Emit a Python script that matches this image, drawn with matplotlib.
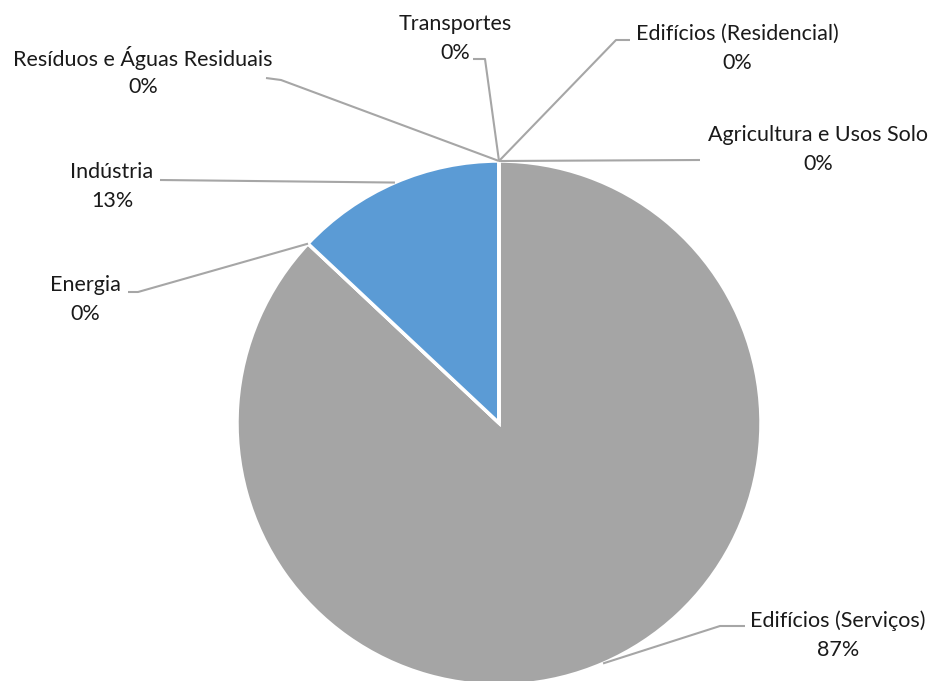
import numpy as np
import matplotlib.pyplot as plt

# sectors in drawing order (clockwise from 12 o'clock)
sectors = ["Agricultura e Usos Solo", "Edifícios (Serviços)", "Energia", "Indústria",
           "Resíduos e Águas Residuais", "Transportes", "Edifícios (Residencial)"]
shares = [0, 87, 0, 13, 0, 0, 0]
pct_labels = ["0%", "87%", "0%", "13%", "0%", "0%", "0%"]
colors = ["#4472C4", "#A5A5A5", "#ED7D31", "#5B9BD5", "#FFC000", "#70AD47", "#264478"]

W, H = 933, 681
plt.rcParams["font.family"] = ["Lato", "DejaVu Sans"]

fig = plt.figure(figsize=(W / 100, H / 100), dpi=100)
ax = fig.add_axes([0, 0, 1, 1])

cx, cy, r = 499, H - 423, 262
wedges, _ = ax.pie(shares, colors=colors, startangle=90, counterclock=False,
                   center=(cx, cy), radius=r, frame=True,
                   wedgeprops=dict(edgecolor="white", linewidth=2.5))
ax.set_xlim(0, W)
ax.set_ylim(0, H)
ax.set_aspect("equal")
ax.axis("off")

# label text position (image px) and leader path bends (image px)
label_pos = {
    "Agricultura e Usos Solo": (818, 135),
    "Edifícios (Serviços)": (838, 621),
    "Energia": (85, 285),
    "Indústria": (112, 172),
    "Resíduos e Águas Residuais": (143, 58),
    "Transportes": (455, 24),
    "Edifícios (Residencial)": (737, 34),
}
leader_pts = {
    "Agricultura e Usos Solo": [(700, 160)],
    "Edifícios (Serviços)": [(720, 626), (745, 626)],
    "Energia": [(138, 292), (128, 292)],
    "Indústria": [(160, 180)],
    "Resíduos e Águas Residuais": [(281, 80), (266, 78)],
    "Transportes": [(485, 59), (473, 59)],
    "Edifícios (Residencial)": [(616, 40), (630, 40)],
}

for w, name, pct in zip(wedges, sectors, pct_labels):
    mid = np.deg2rad((w.theta1 + w.theta2) / 2)
    ax_x = cx + r * np.cos(mid)
    ax_y = cy + r * np.sin(mid)
    xs = [ax_x] + [p[0] for p in leader_pts[name]]
    ys = [ax_y] + [H - p[1] for p in leader_pts[name]]
    ax.plot(xs, ys, color="#A6A6A6", linewidth=1.5, solid_capstyle="butt", zorder=3)
    tx, ty = label_pos[name]
    ax.text(tx, H - ty, name, ha="center", va="center", fontsize=15.5, color="#1a1a1a")
    ax.text(tx, H - ty - 29, pct, ha="center", va="center", fontsize=15.5, color="#1a1a1a")

fig.savefig("out.png", dpi=100)
